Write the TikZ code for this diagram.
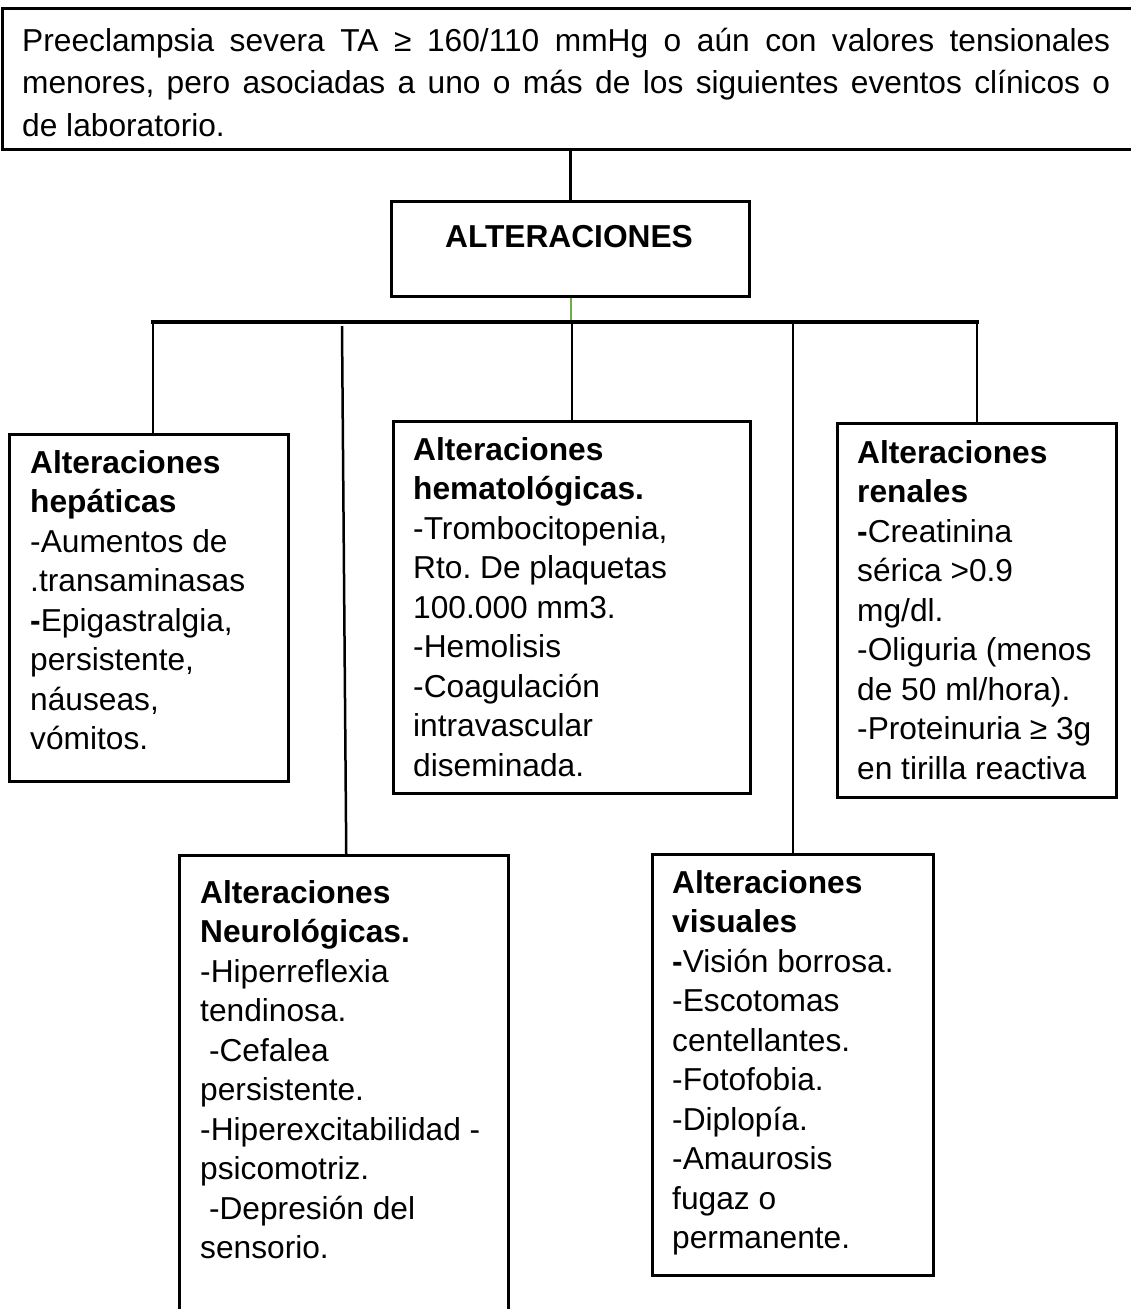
\documentclass[tikz,border=0pt]{standalone}
\usepackage{fontspec}
\setmainfont{Liberation Sans}
\frenchspacing
\definecolor{linkgreen}{RGB}{112,173,71}
\tikzset{
  frame/.style={draw=black, line width=2.5pt, inner sep=0pt, anchor=north west},
  link/.style={draw=black, line width=2.5pt},
  greenlink/.style={draw=linkgreen, line width=2pt},
  bus/.style={draw=black, line width=3.5pt, line cap=rect},
  txt/.style={inner sep=0pt, anchor=base west, font=\fontsize{31.7}{39.5}\selectfont},
}
\newcommand\boxlines[1]{\vtop{\hsize=420pt\parindent=0pt\parskip=0pt\lineskiplimit=-100pt\lineskip=0pt\baselineskip=39.5pt\rightskip=0pt plus 1fil\relax #1}}
\begin{document}
\begin{tikzpicture}[x=1pt,y=-1pt]
\useasboundingbox (0,0) rectangle (1130,1309);
\fill[white] (0,0) rectangle (1130,1309);

% boxes
\node[frame, minimum width=1140pt, minimum height=141pt] (top) at (1,7) {};
\node[frame, minimum width=358pt, minimum height=95pt] (alt) at (390,200) {};
\node[frame, minimum width=279pt, minimum height=347pt] (hep) at (8,433) {};
\node[frame, minimum width=357pt, minimum height=372pt] (hem) at (392,420) {};
\node[frame, minimum width=279pt, minimum height=374pt] (ren) at (836,422) {};
\node[frame, minimum width=329pt, minimum height=500pt] (neu) at (178,854) {};
\node[frame, minimum width=281pt, minimum height=421pt] (vis) at (651,853) {};

% texts
\node[txt] (toptext) at (22,51) {\vtop{\hsize=1088pt\parindent=0pt\parskip=0pt\lineskiplimit=-100pt\lineskip=0pt\baselineskip=42.5pt\tolerance=9999\relax
Preeclampsia severa TA ≥ 160/110 mmHg o aún con valores tensionales\linebreak
menores, pero asociadas a uno o más de los siguientes eventos clínicos o\linebreak
de laboratorio.}};

\node[txt, anchor=base] (alttext) at (569,247) {\textbf{ALTERACIONES}};

\node[txt] (heptext) at (30,473) {\boxlines{%
\textbf{Alteraciones}\par
\textbf{hepáticas}\par
-Aumentos de\par
.transaminasas\par
\textbf{-}Epigastralgia,\par
persistente,\par
náuseas,\par
vómitos.}};

\node[txt] (hemtext) at (413,460) {\boxlines{%
\textbf{Alteraciones}\par
\textbf{hematológicas.}\par
-Trombocitopenia,\par
Rto. De plaquetas\par
100.000 mm3.\par
-Hemolisis\par
-Coagulación\par
intravascular\par
diseminada.}};

\node[txt] (rentext) at (857,463) {\boxlines{%
\textbf{Alteraciones}\par
\textbf{renales}\par
\textbf{-}Creatinina\par
sérica >0.9\par
mg/dl.\par
-Oliguria (menos\par
de 50 ml/hora).\par
-Proteinuria ≥ 3g\par
en tirilla reactiva}};

\node[txt] (neutext) at (200,903) {\boxlines{%
\textbf{Alteraciones}\par
\textbf{Neurológicas.}\par
-Hiperreflexia\par
tendinosa.\par
\ -Cefalea\par
persistente.\par
-Hiperexcitabilidad -\par
psicomotriz.\par
\ -Depresión del\par
sensorio.}};

\node[txt] (vistext) at (672,893) {\boxlines{%
\textbf{Alteraciones}\par
\textbf{visuales}\par
\textbf{-}Visión borrosa.\par
-Escotomas\par
centellantes.\par
-Fotofobia.\par
-Diplopía.\par
-Amaurosis\par
fugaz o\par
permanente.}};

% connectors
\coordinate (busL) at (153,322);
\coordinate (busR) at (977,322);
\coordinate (neuT) at (342,326);

\draw[link] (top.south -| alt.north) -- (alt.north);
\draw[greenlink] ([xshift=1pt]alt.south) -- ([xshift=1pt]alt.south |- busL);
\draw[bus] (busL) -- (busR);
\draw[link] (busL) -- (busL |- hep.north);
\draw[link] (hem.north |- busL) -- (hem.north);
\draw[link] (busR) -- (busR |- ren.north);
\draw[link] (neuT) -- ([xshift=2.5pt]neu.north);
\draw[link] (vis.north |- busL) -- (vis.north);
\end{tikzpicture}
\end{document}
